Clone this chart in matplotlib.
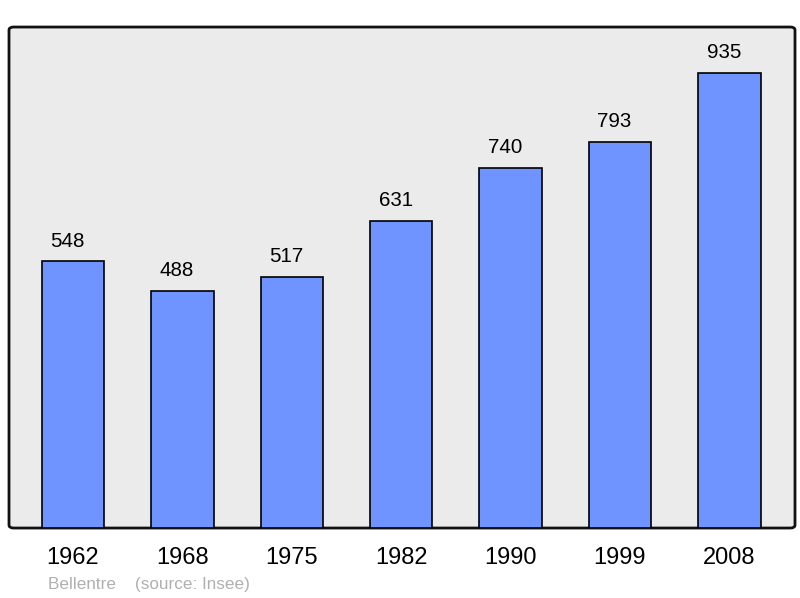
import matplotlib
matplotlib.use("Agg")
import matplotlib.pyplot as plt
from matplotlib.patches import FancyBboxPatch

years = ["1962", "1968", "1975", "1982", "1990", "1999", "2008"]
population = [548, 488, 517, 631, 740, 793, 935]

plt.rcParams['font.family'] = ['Liberation Sans', 'DejaVu Sans']

fig = plt.figure(figsize=(8, 5.98), dpi=100)
ax = fig.add_axes([0.01125, 0.117, 0.9825, 0.8378])
ax.set_facecolor('none')

x = list(range(len(years)))
bars = ax.bar(x, population, width=0.57, color='#7094ff', edgecolor='black', linewidth=1.2, zorder=3)
for xi, v in zip(x, population):
    ax.annotate(str(v), (xi, v), xytext=(-4, 7.8), textcoords='offset points',
                ha='center', va='bottom', fontsize=14.8, color='black')

ax.set_xlim(-0.585, 6.6)
ax.set_ylim(0, 1030)
ax.set_xticks(x)
ax.set_xticklabels(years, fontsize=17)
ax.tick_params(axis='x', length=0, pad=13.8)
ax.set_yticks([])
for s in ax.spines.values():
    s.set_visible(False)

frame = FancyBboxPatch((0, 0), 1, 1, boxstyle='round,pad=0,rounding_size=0.006',
                       transform=ax.transAxes, facecolor='#ebebeb', edgecolor='#111111',
                       linewidth=2, zorder=0, clip_on=False)
ax.add_patch(frame)

fig.text(48/800, 1 - 584/598, "Bellentre    (source: Insee)", fontsize=12.3,
         color='#b0b0b0', ha='left', va='center')

fig.savefig("out.png", dpi=100)
